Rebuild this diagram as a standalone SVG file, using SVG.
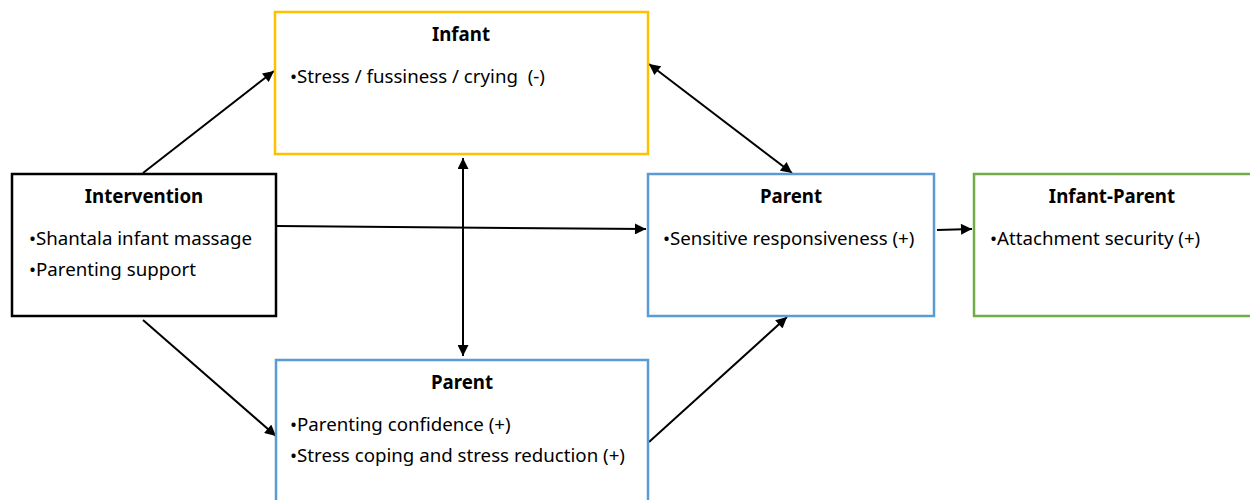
<svg xmlns="http://www.w3.org/2000/svg" width="1250" height="500" viewBox="0 0 1250 500">
<defs>
<marker id="ah" viewBox="0 0 10 10" refX="10" refY="5" markerWidth="6" markerHeight="5.5" orient="auto-start-reverse" markerUnits="strokeWidth">
<path d="M0,0 L10,5 L0,10 z" fill="#000"/>
</marker>
<style>
.box{fill:#fff;stroke-width:2.5}
.t{font-family:"Noto Sans","Liberation Sans",Arial,sans-serif;font-size:18.7px;fill:#000}
.h{font-weight:bold;text-anchor:middle}
.c{stroke:#000;stroke-width:2;fill:none}
</style>
</defs>
<rect width="1250" height="500" fill="#fff"/>
<g id="connectors">
<line class="c" x1="143" y1="173" x2="274" y2="71" marker-end="url(#ah)"/>
<line class="c" x1="277" y1="226" x2="646" y2="229" marker-end="url(#ah)"/>
<line class="c" x1="143" y1="320" x2="276" y2="436" marker-end="url(#ah)"/>
<line class="c" x1="463" y1="158" x2="463" y2="356" marker-start="url(#ah)" marker-end="url(#ah)"/>
<line class="c" x1="649" y1="64" x2="792" y2="173" marker-start="url(#ah)" marker-end="url(#ah)"/>
<line class="c" x1="649" y1="442" x2="787" y2="317" marker-end="url(#ah)"/>
<line class="c" x1="937" y1="230" x2="972" y2="229" marker-end="url(#ah)"/>
</g>
<g id="intervention">
<rect class="box" x="12" y="174" width="264" height="142" stroke="#000"/>
<text class="t h" x="144" y="203">Intervention</text>
<text class="t" x="29" y="245">•Shantala infant massage</text>
<text class="t" x="29" y="276">•Parenting support</text>
</g>
<g id="infant">
<rect class="box" x="275" y="12" width="373" height="142" stroke="#FFC000"/>
<text class="t h" x="461" y="41">Infant</text>
<text class="t" x="290" y="83" xml:space="preserve">•Stress / fussiness / crying  (-)</text>
</g>
<g id="parent-sensitive">
<rect class="box" x="648" y="174" width="286" height="142" stroke="#5B9BD5"/>
<text class="t h" x="791" y="203">Parent</text>
<text class="t" x="663" y="245">•Sensitive responsiveness (+)</text>
</g>
<g id="infant-parent">
<rect class="box" x="974" y="174" width="290" height="142" stroke="#70AD47"/>
<text class="t h" x="1112" y="203">Infant-Parent</text>
<text class="t" x="990" y="245">•Attachment security (+)</text>
</g>
<g id="parent-stress">
<rect class="box" x="276" y="360" width="372" height="160" stroke="#5B9BD5"/>
<text class="t h" x="462" y="389">Parent</text>
<text class="t" x="290" y="431">•Parenting confidence (+)</text>
<text class="t" x="290" y="462">•Stress coping and stress reduction (+)</text>
</g>
</svg>
